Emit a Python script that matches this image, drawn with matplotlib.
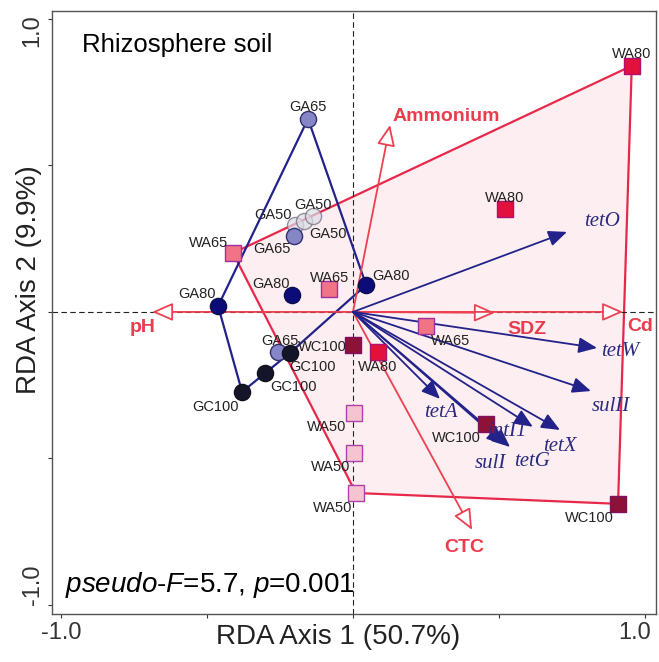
import numpy as np
import matplotlib
matplotlib.use("Agg")
import matplotlib.pyplot as plt
from matplotlib.patches import Polygon
from matplotlib.transforms import ScaledTranslation

plt.rcParams["font.family"] = ["Liberation Sans", "DejaVu Sans"]
plt.rcParams["mathtext.fontset"] = "custom"
plt.rcParams["mathtext.it"] = "Liberation Sans:italic"
plt.rcParams["mathtext.rm"] = "Liberation Sans"

# sample scores (RDA axis 1, axis 2)
g_labels = ["GA65", "GA50", "GA50", "GA50", "GA65", "GA65",
            "GA80", "GA80", "GA80", "GC100", "GC100", "GC100"]
g_x = [-0.154, -0.199, -0.168, -0.137, -0.202, -0.257,
       -0.462, -0.209, 0.045, -0.216, -0.301, -0.380]
g_y = [0.659, 0.297, 0.311, 0.328, 0.259, -0.137,
       0.020, 0.058, 0.092, -0.140, -0.208, -0.273]

w_labels = ["WA65", "WA65", "WA65", "WA80", "WA80", "WA80",
            "WA50", "WA50", "WA50", "WC100", "WC100", "WC100"]
w_x = [-0.411, -0.082, 0.250, 0.955, 0.521, 0.086,
       0.003, 0.003, 0.010, 0.000, 0.455, 0.908]
w_y = [0.201, 0.078, -0.048, 0.840, 0.352, -0.137,
       -0.345, -0.481, -0.618, -0.113, -0.382, -0.655]

# environmental factors
env_names = ["pH", "SDZ", "Cd", "Ammonium", "CTC"]
env_x = [-0.688, 0.486, 0.925, 0.127, 0.408]
env_y = [0.000, -0.003, 0.000, 0.638, -0.744]

# genes
gene_names = ["tetO", "tetW", "sulII", "tetX", "intI1", "tetG", "sulI", "tetA"]
gene_x = [0.733, 0.836, 0.815, 0.709, 0.616, 0.538, 0.521, 0.298]
gene_y = [0.273, -0.123, -0.270, -0.403, -0.392, -0.461, -0.454, -0.297]

# styles
g_face = {"GA50": "#dcdce6", "GA65": "#8686c6", "GA80": "#0c0c78", "GC100": "#15152a"}
g_edge = {"GA50": "#6a6a7a", "GA65": "#303070", "GA80": "#0c0c50", "GC100": "#101020"}
w_face = {"WA50": "#f6c4d0", "WA65": "#f07484", "WA80": "#e2103c", "WC100": "#8c1238"}
w_edge = {"WA50": "#b040b0", "WA65": "#a030a0", "WA80": "#b01070", "WC100": "#801060"}

px = 1 / 1.389  # pixel -> points
g_off = [(0, -12), (-22, -10), (24, 13), (0, -11), (-22, 13), (2, -11),
         (-21, -12), (-21, -11), (25, -9), (23, 14), (28, 14), (-27, 15)]
w_off = [(-24, -10), (1, -11), (25, 15), (0, -12), (0, -11), (0, 15),
         (-27, 14), (-23, 14), (-23, 15), (-31, 2), (-29, 14), (-29, 14)]
env_off = [(-9, 16), (32, 17), (17, 15), (2, -8), (-8, 18)]
gene_off = [(35, -10), (23, 4), (20, 15), (0, 17), (-25, 5), (22, 15), (-15, 19), (1, 14)]


def hull(xs, ys):
    pts = sorted(set(zip(xs, ys)))
    def cross(o, a, b):
        return (a[0]-o[0])*(b[1]-o[1]) - (a[1]-o[1])*(b[0]-o[0])
    lower, upper = [], []
    for p in pts:
        while len(lower) >= 2 and cross(lower[-2], lower[-1], p) <= 0:
            lower.pop()
        lower.append(p)
    for p in reversed(pts):
        while len(upper) >= 2 and cross(upper[-2], upper[-1], p) <= 0:
            upper.pop()
        upper.append(p)
    return np.array(lower[:-1] + upper[:-1])


fig = plt.figure(figsize=(6.59, 6.62), dpi=100)
ax = fig.add_axes([52/659, 48/662, 604/659, 603/662])
ax.set_xlim(-1.031, 1.038)
ax.set_ylim(-1.031, 1.027)

red = "#e8284a"
navy = "#22228a"

ax.add_patch(Polygon(hull(w_x, w_y), closed=True, fc="#fdeef1", ec=red, lw=1.6, zorder=1))
ax.add_patch(Polygon(hull(g_x, g_y), closed=True, fill=False, ec=navy, lw=1.6, zorder=2))

ax.axhline(0, color="#222222", lw=0.8, ls=(0, (5, 3)), zorder=1.5)
ax.axvline(0, color="#222222", lw=0.8, ls=(0, (5, 3)), zorder=1.5)

for name, x, y, (dx, dy) in zip(env_names, env_x, env_y, env_off):
    ax.annotate("", xy=(x, y), xytext=(0, 0),
                arrowprops=dict(arrowstyle="-|>,head_length=0.8,head_width=0.35",
                                fc="white", ec="#ee4050", lw=1.3,
                                shrinkA=0, shrinkB=0, mutation_scale=16),
                zorder=3)
    ha = "left" if name == "Ammonium" else "center"
    ax.annotate(name, xy=(x, y), xytext=(dx*px, -dy*px), textcoords="offset points",
                ha=ha, va="center", color="#ea3c4c", fontsize=14, fontweight="bold", zorder=6)

for name, x, y, (dx, dy) in zip(gene_names, gene_x, gene_y, gene_off):
    ax.annotate("", xy=(x, y), xytext=(0, 0),
                arrowprops=dict(arrowstyle="-|>,head_length=0.7,head_width=0.3",
                                fc=navy, ec=navy, lw=1.3,
                                shrinkA=0, shrinkB=0, mutation_scale=16),
                zorder=3)
    ax.annotate(name, xy=(x, y), xytext=(dx*px, -dy*px), textcoords="offset points",
                ha="center", va="center", color="#2a2a80", fontsize=15,
                family="Liberation Serif", style="italic", zorder=6)

for lab, x, y in zip(g_labels, g_x, g_y):
    alpha = 0.7 if lab == "GA50" else 1
    ax.scatter(x, y, s=135, marker="o", fc=g_face[lab], ec=g_edge[lab], lw=1, alpha=alpha, zorder=4)
for lab, x, y in zip(w_labels, w_x, w_y):
    ax.scatter(x, y, s=130, marker="s", fc=w_face[lab], ec=w_edge[lab], lw=1, zorder=4)

for lab, x, y, (dx, dy) in zip(g_labels + w_labels, g_x + w_x, g_y + w_y, g_off + w_off):
    ax.annotate(lab, xy=(x, y), xytext=(dx*px, -dy*px), textcoords="offset points",
                ha="center", va="center", fontsize=10.5, color="#222222", zorder=5)

ax.text(0.05, 0.944, "Rhizosphere soil", transform=ax.transAxes, fontsize=18.5,
        ha="left", va="center")
ax.text(0.0215, 0.048, r"$pseudo$-$F$=5.7, $p$=0.001", transform=ax.transAxes,
        fontsize=20, ha="left", va="center")

ax.set_xticks([-1, -0.5, 0, 0.5, 1])
ax.set_xticklabels(["-1.0", "", "", "", "1.0"])
ax.set_yticks([-1, -0.5, 0, 0.5, 1])
ax.set_yticklabels(["-1.0", "", "", "", "1.0"])
ax.tick_params(axis="both", direction="out", length=3, width=0.8, labelsize=17,
               colors="#333333", pad=3)
ax.tick_params(axis="y", labelrotation=90)
xlab = ax.get_xticklabels()
xlab[-1].set_ha("right")
xlab[-1].set_transform(xlab[-1].get_transform() + ScaledTranslation(6/100, 0, fig.dpi_scale_trans))
ylab = ax.get_yticklabels()
ylab[0].set_va("bottom")
ylab[-1].set_va("top")
ylab[-1].set_transform(ylab[-1].get_transform() + ScaledTranslation(0, 5/100, fig.dpi_scale_trans))
for t in ylab:
    t.set_ha("right")

ax.set_xlabel("RDA Axis 1 (50.7%)", fontsize=20, color="#222222")
ax.set_ylabel("RDA Axis 2 (9.9%)", fontsize=20, color="#222222")
ax.xaxis.set_label_coords(0.474, -0.038)
ax.xaxis.label.set_va("center")
ax.yaxis.set_label_coords(-0.038, 0.554)
ax.yaxis.label.set_va("center")

for s in ax.spines.values():
    s.set_color("#555555")
    s.set_linewidth(1.0)

fig.savefig("out.png", dpi=100)
